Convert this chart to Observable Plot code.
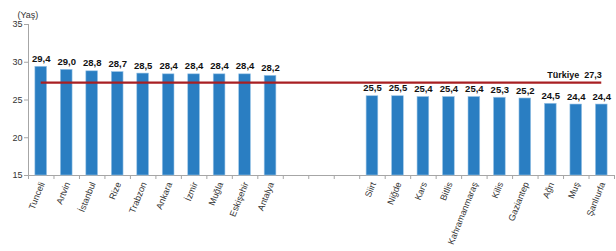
<!DOCTYPE html>
<html>
<head>
<meta charset="utf-8">
<script src="https://cdn.jsdelivr.net/npm/d3@7"></script>
<script src="https://cdn.jsdelivr.net/npm/@observablehq/plot@0.6"></script>
<style>
  html, body { margin: 0; padding: 0; background: #fff; }
  #chart svg { font-family: Arial, "Liberation Sans", sans-serif; display: block; }
</style>
</head>
<body>
<div id="chart"></div>
<script>
const topProvinces = ["Tunceli", "Artvin", "İstanbul", "Rize", "Trabzon", "Ankara", "İzmir", "Muğla", "Eskişehir", "Antalya"];
const topValues = [29.4, 29.0, 28.8, 28.7, 28.5, 28.4, 28.4, 28.4, 28.4, 28.2];
const bottomProvinces = ["Siirt", "Niğde", "Kars", "Bitlis", "Kahramanmaraş", "Kilis", "Gaziantep", "Ağrı", "Muş", "Şanlıurfa"];
const bottomValues = [25.5, 25.5, 25.4, 25.4, 25.4, 25.3, 25.2, 24.5, 24.4, 24.4];
const gapSlots = 3;
const turkiyeValue = 27.3;
const yTicks = [15, 20, 25, 30, 35];

const fmt = v => v.toFixed(1).replace(".", ",");

const data = [
  ...topProvinces.map((name, i) => ({name, value: topValues[i], slot: i})),
  ...bottomProvinces.map((name, i) => ({name, value: bottomValues[i], slot: topProvinces.length + gapSlots + i}))
];
const nSlots = topProvinces.length + gapSlots + bottomProvinces.length;
const firstCenter = 0.5, lastCenter = nSlots - 0.5;

const chart = Plot.plot({
  width: 616,
  height: 251,
  marginLeft: 28,
  marginRight: 2,
  marginTop: 24,
  marginBottom: 76,
  style: {fontFamily: 'Arial, "Liberation Sans", sans-serif', fontSize: "9px", color: "#404040"},
  x: {domain: [0, nSlots], axis: null},
  y: {domain: [15, 35], axis: null},
  marks: [
    Plot.axisY({ticks: yTicks, tickSize: 4, stroke: "#a6a6a6", fill: "#333", tickPadding: 2, fontSize: 9, label: null}),
    Plot.ruleX([0], {y1: 15, y2: 35, stroke: "#a6a6a6"}),
    Plot.axisX({ticks: d3.range(nSlots + 1), tickFormat: () => "", tickSize: 4, stroke: "#a6a6a6", label: null}),
    Plot.ruleY([15], {stroke: "#a6a6a6"}),
    Plot.rectY(data, {x1: d => d.slot + 0.27, x2: d => d.slot + 0.73, y1: 15, y2: "value", fill: "#2a7ec2", stroke: "#9cc6e8", strokeWidth: 0.6}),
    Plot.text(data, {x: d => d.slot + 0.5, y: "value", text: d => fmt(d.value), dy: -8, fontWeight: "bold", fontSize: 9.5, fill: "#111"}),
    Plot.ruleY([turkiyeValue], {x1: firstCenter, x2: lastCenter, stroke: "#a81f22", strokeWidth: 2.4}),
    Plot.text([turkiyeValue], {x: lastCenter, y: d => d, text: d => "Türkiye  " + fmt(d), textAnchor: "end", dy: -8, fontWeight: "bold", fontSize: 9, fill: "#111"}),
    Plot.text(data, {x: d => d.slot + 0.5, y: 15, text: "name", rotate: -68, textAnchor: "end", dy: 7, dx: 1, fontSize: 9, fill: "#333"}),
    Plot.text(["(Yaş)"], {frameAnchor: "top-left", text: d => d, dx: -11, dy: -13, fontSize: 9, fill: "#333", textAnchor: "start"})
  ]
});
document.getElementById("chart").appendChild(chart);
</script>
</body>
</html>
